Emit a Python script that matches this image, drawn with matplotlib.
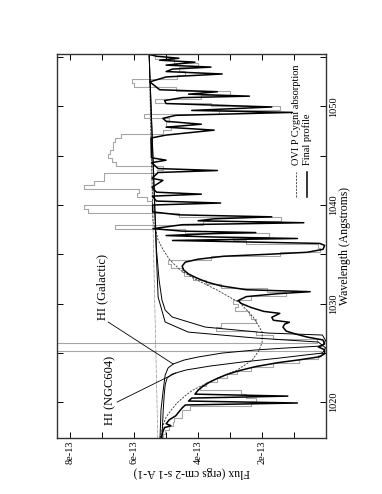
import numpy as np
import matplotlib.pyplot as plt
from matplotlib.ticker import FixedLocator

plt.rcParams['font.family'] = ['Liberation Serif', 'DejaVu Serif']

# ==========================================================
# DATA  (flux in units of 1e-13 ergs cm-2 s-1 A-1)
# ==========================================================
# observed spectrum, binned (gray histogram)
gray_start = 1016.4
gray_step = 0.4
gray_flux = [
    5.2, 5.0, 5.1, 4.7, 4.9, 4.6, 4.4, 4.6, 3.9, 0.8,
    3.6, 1.4, 3.9, 4.0, 3.5, 3.3, 2.9, 2.7, 2.0, 1.3,
    0.4, 0.1, 0.2, 40.0, 0.1, 0.5, 2.8, 1.6, 5.3, 1.3,
    3.1, 1.6, 3.2, 2.5, 3.0, 2.8, 1.9, 0.6, 3.1, 3.5,
    4.0, 4.3, 4.6, 4.4, 5.3, 4.6, 2.6, 0.3, 0.1, 0.4,
    4.6, 1.2, 2.4, 6.4, 6.8, 0.9, 1.9, 7.3, 7.6, 7.5,
    3.4, 7.8, 4.0, 7.7, 7.4, 7.1, 6.8, 7.1, 3.5, 6.7,
    6.4, 7.0, 6.6, 6.9, 6.4, 6.9, 6.3, 6.5, 3.7, 6.0,
    4.0, 5.8, 5.6, 1.1, 1.8, 5.4, 5.3, 2.5, 3.5, 5.9,
    6.1, 6.0, 3.3, 5.5, 3.7, 4.3, 5.2, 5.5,
]

# final model profile
final_wave = [
    1016.35, 1017.0, 1017.4, 1017.6, 1017.8, 1018.2, 1018.6, 1019.0, 1019.4, 1019.7,
    1019.9, 1020.1, 1020.4, 1020.6, 1020.8, 1021.2, 1021.6, 1022.0, 1022.4, 1022.8,
    1023.2, 1023.6, 1024.0, 1024.3, 1024.6, 1024.9, 1025.3, 1025.6, 1025.9, 1026.3,
    1026.6, 1026.9, 1027.2, 1027.6, 1027.9, 1028.1, 1028.3, 1028.6, 1029.0, 1029.2,
    1029.6, 1030.0, 1030.3, 1030.7, 1031.0, 1031.2, 1031.4, 1031.8, 1032.2, 1032.6,
    1033.0, 1033.4, 1033.8, 1034.2, 1034.5, 1034.8, 1035.0, 1035.2, 1035.5, 1035.9,
    1036.1, 1036.25, 1036.4, 1036.5, 1036.6, 1036.75, 1036.9, 1037.1, 1037.2, 1037.35,
    1037.6, 1038.0, 1038.2, 1038.4, 1038.6, 1038.8, 1039.0, 1039.3, 1040.0, 1040.2,
    1040.4, 1040.9, 1041.1, 1041.3, 1041.8, 1042.5, 1042.7, 1043.3, 1043.5, 1043.7,
    1044.3, 1044.55, 1044.8, 1046.8, 1047.1, 1047.6, 1047.9, 1048.2, 1048.5, 1048.8,
    1049.1, 1049.4, 1049.6, 1049.95, 1050.3, 1050.6, 1050.9, 1051.05, 1051.25, 1051.5,
    1051.7, 1052.5, 1053.0, 1053.3, 1053.55, 1053.8, 1054.0, 1054.2, 1054.5, 1054.7,
    1054.9, 1055.1, 1055.3,
]
final_flux = [
    5.15, 5.10, 5.05, 4.85, 5.0, 4.9, 4.7, 4.6, 4.5, 4.4,
    0.9, 4.3, 4.2, 1.2, 4.1, 4.0, 3.85, 3.65, 3.4, 3.1,
    2.7, 2.2, 1.5, 0.8, 0.2, 0.05, 0.05, 0.25, 0.05, 0.1,
    0.6, 0.95, 1.25, 1.35, 1.3, 1.15, 1.65, 1.7, 1.45, 1.95,
    2.35, 2.65, 2.75, 2.5, 1.5, 0.5, 2.5, 3.3, 3.75, 4.05,
    4.3, 4.45, 4.5, 4.4, 4.0, 3.2, 1.8, 0.6, 0.1, 0.05,
    0.2, 2.5, 4.8, 3.0, 0.9, 3.5, 5.0, 3.5, 2.2, 4.5,
    5.41, 4.5, 0.7, 4.0, 3.5, 1.7, 4.6, 5.42, 5.42, 3.3,
    5.3, 5.43, 3.9, 5.3, 5.44, 5.1, 5.44, 5.25, 3.4, 5.25,
    5.45, 5.0, 5.46, 5.47, 5.0, 3.5, 5.0, 3.9, 5.0, 5.1,
    4.7, 1.06, 4.2, 1.7, 5.0, 5.05, 4.5, 2.4, 4.3, 3.4,
    5.2, 5.51, 5.0, 3.25, 5.0, 4.8, 3.6, 5.0, 4.1, 5.2,
    4.6, 5.3, 5.53,
]

# OVI P Cygni absorption (dashed)
ovi_wave = [1016.35, 1017.66, 1018.48, 1019.19, 1019.9, 1020.71, 1021.22, 1022.23,
            1023.25, 1024.26, 1025.28, 1026.09, 1027.11, 1027.82, 1028.63, 1030.05,
            1031.37, 1032.59, 1033.4, 1034.42, 1035.43, 1036.45, 1038.48, 1055.3]
ovi_flux = [5.19, 5.09, 5.0, 4.84, 4.66, 4.38, 4.16, 3.53,
            2.78, 2.31, 2.09, 2.0, 2.0, 2.13, 2.28, 2.69,
            3.41, 4.16, 4.56, 4.88, 5.09, 5.25, 5.41, 5.53]

# HI Lyman-beta, Galactic component
hig_wave = [1016.35, 1019.19, 1021.22, 1022.74, 1023.45, 1023.86, 1024.26, 1024.57,
            1024.97, 1025.28, 1025.48, 1025.69, 1026.24, 1026.8, 1027.0, 1027.61,
            1028.63, 1029.34, 1030.36, 1032.39, 1035.43, 1055.3]
hig_flux = [5.19, 5.16, 5.09, 5.03, 4.94, 4.78, 4.44, 4.0,
            3.25, 2.22, 1.28, 0.12, 0.02, 0.12, 1.81, 3.78,
            4.81, 5.03, 5.13, 5.22, 5.3, 5.53]

# HI Lyman-beta, NGC604 component
hin_wave = [1016.35, 1019.19, 1020.71, 1021.73, 1022.44, 1022.84, 1023.25, 1023.65,
            1024.06, 1024.47, 1024.77, 1024.97, 1025.5, 1026.09, 1026.5, 1027.1,
            1028.12, 1030.66, 1035.43, 1055.3]
hin_flux = [5.13, 5.09, 5.06, 5.03, 4.97, 4.81, 4.38, 3.63,
            2.63, 1.44, 0.66, 0.12, 0.02, 0.25, 2.22, 4.31,
            5.03, 5.25, 5.31, 5.53]

# unabsorbed continuum (dotted)
cont_wave = [1016.35, 1055.3]
cont_flux = [5.26, 5.53]

flux_ticks = [8, 6, 4, 2]
flux_labels = ["8e-13", "6e-13", "4e-13", "2e-13"]
flux_minor = [7, 5, 3, 1]
wave_ticks = [1020, 1030, 1040, 1050]
wave_minor = [1025, 1035, 1045, 1055]

# ==========================================================
# PLOT  (figure is drawn rotated: flux runs right-to-left,
#        wavelength runs bottom-to-top)
# ==========================================================
fig = plt.figure(figsize=(3.82, 4.94), dpi=100)
ax = fig.add_axes([0.149, 0.1134, 0.705, 0.7773])

gray_wave = gray_start + gray_step * np.arange(len(gray_flux))
ax.plot(gray_flux, gray_wave, drawstyle="steps-mid", color="#a6a6a6", lw=0.8)
ax.plot(cont_flux, cont_wave, color="black", lw=0.5, ls=(0, (0.6, 1.2)))
ax.plot(ovi_flux, ovi_wave, color="#333333", lw=0.6, ls=(0, (2.5, 1.5)))
ax.plot(hig_flux, hig_wave, color="black", lw=0.7)
ax.plot(hin_flux, hin_wave, color="black", lw=0.7)
ax.plot(final_flux, final_wave, color="black", lw=1.1)

# labels for the two HI components
ax.text(7.0, 1031.7, "HI (Galactic)", rotation=90, ha="center", va="center", fontsize=9)
ax.text(6.75, 1021.2, "HI (NGC604)", rotation=90, ha="center", va="center", fontsize=9)
ax.plot([6.81, 4.78], [1028.12, 1023.86], color="black", lw=0.6)
ax.plot([6.53, 4.70], [1020.0, 1022.94], color="black", lw=0.6)

# hand-made rotated legend
ax.plot([0.888, 0.888], [0.628, 0.693], transform=ax.transAxes,
        color="#333333", lw=0.6, ls=(0, (2.5, 1.5)))
ax.plot([0.929, 0.929], [0.628, 0.693], transform=ax.transAxes, color="black", lw=1.1)
ax.text(0.888, 0.71, "OVI P Cygni absorption", transform=ax.transAxes, rotation=90,
        rotation_mode="anchor", ha="left", va="center", fontsize=7.5)
ax.text(0.929, 0.71, "Final profile", transform=ax.transAxes, rotation=90,
        rotation_mode="anchor", ha="left", va="center", fontsize=7.5)

ax.set_xlim(8.41, 0)
ax.set_ylim(1016.35, 1055.33)

ax.xaxis.set_major_locator(FixedLocator(flux_ticks))
ax.xaxis.set_minor_locator(FixedLocator(flux_minor))
ax.set_xticklabels(flux_labels, rotation=90)
ax.yaxis.set_major_locator(FixedLocator(wave_ticks))
ax.yaxis.set_minor_locator(FixedLocator(wave_minor))
ax.set_yticklabels([str(w) for w in wave_ticks], rotation=90, va="center")

ax.tick_params(axis="both", which="both", direction="in", length=4.5, width=0.7,
               top=True, bottom=True, left=True, right=True, labelsize=7.5)
ax.tick_params(axis="y", labelleft=False, labelright=True, pad=2)
ax.tick_params(axis="x", pad=2)

ax.yaxis.set_label_position("right")
ax.set_ylabel("Wavelength (Angstroms)", fontsize=8.5, rotation=90, labelpad=1)
ax.set_xlabel("Flux (ergs cm-2 s-1 A-1)", fontsize=8.5, rotation=180, labelpad=1)

for s in ax.spines.values():
    s.set_linewidth(1.0)
    s.set_color("#333333")

fig.savefig("out.png", dpi=100)
